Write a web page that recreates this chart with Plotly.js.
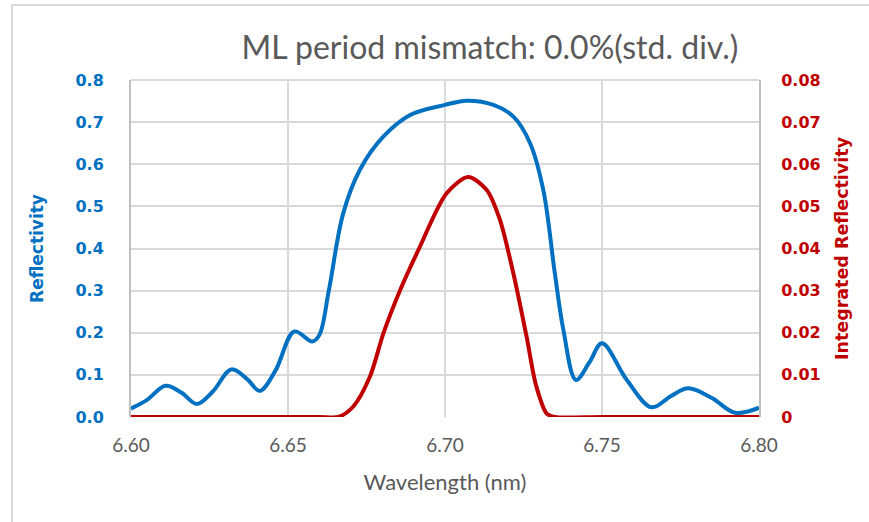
<!DOCTYPE html>
<html>
<head>
<meta charset="utf-8">
<script src="https://cdn.plot.ly/plotly-3.0.1.min.js"></script>
<style>html,body{margin:0;padding:0;background:#fff;}#chart{width:869px;height:522px;}</style>
</head>
<body>
<div id="chart"></div>
<script>
// Reflectivity curve (left axis)
const reflWavelength = [6.600, 6.605, 6.611, 6.616, 6.621, 6.626, 6.632, 6.637, 6.641, 6.646, 6.652, 6.6577, 6.660, 6.663, 6.6676, 6.6729, 6.6804, 6.6889, 6.700, 6.707, 6.7154, 6.7218, 6.7271, 6.7313, 6.735, 6.7377, 6.7417, 6.746, 6.750, 6.7579, 6.7658, 6.772, 6.7775, 6.785, 6.7924, 6.800];
const reflectivity   = [0.020, 0.040, 0.074, 0.058, 0.031, 0.060, 0.113, 0.090, 0.062, 0.110, 0.203, 0.179, 0.195, 0.300, 0.484, 0.587, 0.666, 0.717, 0.741, 0.751, 0.741, 0.713, 0.650, 0.539, 0.340, 0.207, 0.088, 0.130, 0.175, 0.088, 0.023, 0.050, 0.068, 0.045, 0.010, 0.022];

// Integrated reflectivity curve (right axis)
const intWavelength = [6.600, 6.640, 6.660, 6.666, 6.6708, 6.6761, 6.6804, 6.6857, 6.6915, 6.7005, 6.7074, 6.7133, 6.7175, 6.7218, 6.7260, 6.7290, 6.7324, 6.735, 6.750, 6.800];
const integratedRefl = [0, 0, 0, 0, 0.0025, 0.0096, 0.0199, 0.0301, 0.0396, 0.0531, 0.0570, 0.0539, 0.0468, 0.0340, 0.0190, 0.0075, 0.0008, 0, 0, 0];

const titleText = 'ML period mismatch: 0.0%(std. div.)';
const xTitle = 'Wavelength (nm)';
const yTitle = 'Reflectivity';
const y2Title = 'Integrated Reflectivity';

const BLUE = '#0070C0', RED = '#C00000', GRAY = '#595959', GRID = '#d9d9d9';
const BOLDFONT = '"DejaVu Sans", sans-serif';
const LIGHTFONT = 'Lato, sans-serif';

const traces = [
  {x: reflWavelength, y: reflectivity, type: 'scatter', mode: 'lines', yaxis: 'y',
   line: {color: BLUE, width: 4, shape: 'spline', smoothing: 1}, hoverinfo: 'skip', cliponaxis: false},
  {x: intWavelength, y: integratedRefl, type: 'scatter', mode: 'lines', yaxis: 'y2',
   line: {color: RED, width: 4, shape: 'spline', smoothing: 0.8}, hoverinfo: 'skip', cliponaxis: false}
];

const L = 131, R = 759, T = 80, B = 417;
const pw = R - L, ph = B - T;
const px2x = p => (p - L) / pw;
const py2y = p => (B - p) / ph;

const layout = {
  width: 869, height: 522,
  margin: {l: L, r: 869 - R, t: T, b: 522 - B},
  paper_bgcolor: '#fff', plot_bgcolor: '#fff',
  showlegend: false,
  title: {text: titleText, x: 490 / 869, xref: 'container', xanchor: 'center',
          y: 1 - 48 / 522, yref: 'container', yanchor: 'middle',
          font: {family: LIGHTFONT, size: 32, color: GRAY}},
  xaxis: {range: [6.6, 6.8], dtick: 0.05, tick0: 6.6, tickformat: '.2f',
          showgrid: true, gridcolor: GRID, gridwidth: 2, zeroline: false,
          showline: false, ticks: 'outside', ticklen: 11, tickcolor: 'rgba(0,0,0,0)',
          tickfont: {family: LIGHTFONT, size: 19, color: GRAY},
          title: {text: xTitle, standoff: 19, font: {family: LIGHTFONT, size: 22, color: GRAY}}},
  yaxis: {range: [0, 0.8], dtick: 0.1, tickformat: '.1f',
          showgrid: true, gridcolor: GRID, gridwidth: 2, zeroline: false,
          showline: true, linecolor: '#bfbfbf', linewidth: 2,
          ticks: 'outside', ticklen: 22, tickcolor: 'rgba(0,0,0,0)',
          tickfont: {family: BOLDFONT, size: 16, color: BLUE, weight: 'bold'},
          title: {text: yTitle, standoff: 28, font: {family: BOLDFONT, size: 17, color: BLUE, weight: 'bold'}}},
  yaxis2: {range: [0, 0.08], dtick: 0.01, tickformat: '.2~f', overlaying: 'y', side: 'right',
          showgrid: false, zeroline: false,
          showline: true, linecolor: '#bfbfbf', linewidth: 2,
          ticks: 'outside', ticklen: 17, tickcolor: 'rgba(0,0,0,0)',
          tickfont: {family: BOLDFONT, size: 16, color: RED, weight: 'bold'},
          title: {text: y2Title, standoff: 16, font: {family: BOLDFONT, size: 17.5, color: RED, weight: 'bold'}}},
  shapes: [
    {type: 'line', xref: 'paper', yref: 'paper', x0: px2x(12), x1: px2x(12), y0: py2y(5), y1: py2y(540),
     line: {color: GRID, width: 2}},
    {type: 'line', xref: 'paper', yref: 'paper', x0: px2x(12), x1: px2x(900), y0: py2y(5), y1: py2y(5),
     line: {color: GRID, width: 2}},
    {type: 'line', xref: 'paper', yref: 'paper', x0: 0, x1: 1, y0: 1, y1: 1,
     line: {color: GRID, width: 2}}
  ]
};

Plotly.newPlot('chart', traces, layout, {displayModeBar: false, staticPlot: true});
</script>
</body>
</html>
